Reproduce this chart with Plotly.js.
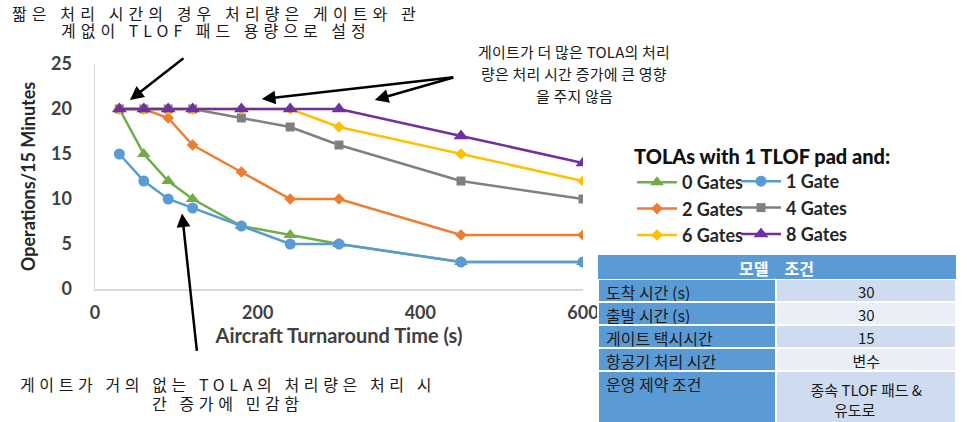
<!DOCTYPE html>
<html><head><meta charset="utf-8">
<script src="https://cdn.plot.ly/plotly-3.0.1.min.js"></script>
<style>html,body{margin:0;padding:0;background:#fff}#chart{width:967px;height:422px}</style>
</head><body><div id="chart"></div>
<script>
const turnaround = [30, 60, 90, 120, 180, 240, 300, 450, 600];
const gates0 = [20, 15, 12, 10, 7, 6, 5, 3, 3];
const gates1 = [15, 12, 10, 9, 7, 5, 5, 3, 3];
const gates2 = [20, 20, 19, 16, 13, 10, 10, 6, 6];
const gates4 = [20, 20, 20, 20, 19, 18, 16, 12, 10];
const gates6 = [20, 20, 20, 20, 20, 20, 18, 15, 12];
const gates8 = [20, 20, 20, 20, 20, 20, 20, 17, 14];
const seriesNames = ['0 Gates', '1 Gate', '2 Gates', '4 Gates', '6 Gates', '8 Gates'];
const xTicks = [0, 200, 400, 600];
const yTicks = [0, 5, 10, 15, 20, 25];
const tableHeader = ['모델', '조건'];
const tableParams = ['도착 시간 (s)', '출발 시간 (s)', '게이트 택시시간', '항공기 처리 시간', '운영 제약 조건'];
const tableValues = ['30', '30', '15', '변수', '종속 TLOF 패드 &<br>\u00a0\u00a0\u00a0\u00a0\u00a0\u00a0\u00a0유도로'];
const noteTopLeft = ['짧은 처리 시간의 경우 처리량은 게이트와 관', '계없이 TLOF 패드 용량으로 설정'];
const noteTopRight = ['게이트가 더 많은 TOLA의 처리', '량은 처리 시간 증가에 큰 영향', '을 주지 않음'];
const noteBottom = ['게이트가 거의 없는 TOLA의 처리량은 처리 시', '간 증가에 민감함'];

const W = 967, H = 422, ML = 95, MR = 10, MT = 10, MB = 0;
const PW = W - ML - MR, PH = H - MT - MB;
const px = x => (x - ML) / PW;
const py = y => (H - MB - y) / PH;

const colors = ['#70ad47', '#5b9bd5', '#ed7d31', '#808080', '#ffc000', '#7030a0'];
const symbols = ['triangle-up', 'circle', 'diamond', 'square', 'diamond', 'triangle-up'];
const sizes = [12, 11, 9, 9, 9, 13];
const legends = ['legend', 'legend2', 'legend', 'legend2', 'legend', 'legend2'];
const allY = [gates0, gates1, gates2, gates4, gates6, gates8];

const traces = allY.map((ys, i) => ({
  type: 'scatter', mode: 'lines+markers', x: turnaround, y: ys, name: seriesNames[i],
  line: {color: colors[i], width: 2.5},
  marker: {symbol: symbols[i], size: sizes[i], color: colors[i]},
  legend: legends[i], xaxis: 'x', yaxis: 'y'
}));

const rowFill = ['#cfdcef', '#e9eef7', '#cfdcef', '#e9eef7', '#cfdcef'];
traces.push({
  type: 'table',
  domain: {x: [px(598), px(956)], y: [0, py(255)]},
  columnwidth: [177, 178],
  header: {
    values: [[tableHeader[0]], [tableHeader[1]]],
    fill: {color: '#5b9bd5'}, line: {color: '#5b9bd5', width: 0},
    font: {family: 'Noto Sans CJK KR', size: 16, color: '#ffffff', weight: 700},
    align: ['right', 'left'], height: 24
  },
  cells: {
    values: [tableParams, tableValues],
    fill: {color: [tableParams.map(() => '#5b9bd5'), rowFill]},
    line: {color: '#ffffff', width: 2},
    font: {family: 'Noto Sans CJK KR', size: [16, 15], color: '#1a1a1a'},
    align: ['left', 'center'], height: 23
  }
});

const noteFont = {family: 'Noto Sans CJK KR', size: 16, color: '#1a1a1a'};
const spaced = (t, ls) => '<span style="letter-spacing:' + ls + 'px">' + t + '</span>';
const topLeftSpacing = [5.1, 5.0];
const annotations = [];
noteTopLeft.forEach((t, i) => annotations.push({xref: 'paper', yref: 'paper', x: px(216), y: py(13 + 17 * i), text: spaced(t, topLeftSpacing[i]), showarrow: false, font: noteFont, xanchor: 'center', yanchor: 'middle'}));
noteTopRight.forEach((t, i) => annotations.push({xref: 'paper', yref: 'paper', x: px(574), y: py(52 + 21.5 * i), text: spaced(t, 0.2), showarrow: false, font: {family: 'Noto Sans CJK KR', size: 15, color: '#1a1a1a'}, xanchor: 'center', yanchor: 'middle'}));
noteBottom.forEach((t, i) => annotations.push({xref: 'paper', yref: 'paper', x: px(228), y: py(384 + 19 * i), text: spaced(t, 4.6), showarrow: false, font: noteFont, xanchor: 'center', yanchor: 'middle'}));

const arrow = (x, y, ax, ay) => ({x: x, y: y, xref: 'x', yref: 'y', ax: ax, ay: ay, text: '', showarrow: true, arrowhead: 2, arrowsize: 1.1, arrowwidth: 2.5, arrowcolor: '#000000'});
annotations.push(arrow(43, 21, 55, -43));
annotations.push(arrow(205, 21.1, 193, -22));
annotations.push(arrow(344, 21, 80, -23));
annotations.push(arrow(107, 8.4, 15, 139));

const tickFont = {family: 'Lato', size: 18, color: '#404040', weight: 700};
const legendFont = {family: 'Lato', size: 18, color: '#262626', weight: 700};

const layout = {
  width: W, height: H,
  margin: {l: ML, r: MR, t: MT, b: MB},
  paper_bgcolor: '#ffffff', plot_bgcolor: '#ffffff',
  xaxis: {
    domain: [0, px(583)], range: [0, 600], tickvals: xTicks, showgrid: false, zeroline: false,
    showline: true, linecolor: '#d9d9d9', linewidth: 1.5,
    ticks: 'outside', ticklen: 7, tickcolor: 'rgba(0,0,0,0)', tickfont: tickFont,
    title: {text: 'Aircraft Turnaround Time (s)', font: {family: 'Lato', size: 20, color: '#404040', weight: 700}, standoff: 0}
  },
  yaxis: {
    domain: [py(289), py(64)], range: [0, 25], tickvals: yTicks, showgrid: false, zeroline: false,
    showline: true, linecolor: '#d9d9d9', linewidth: 1.5,
    ticks: 'outside', ticklen: 18, tickcolor: 'rgba(0,0,0,0)', tickfont: tickFont,
    title: {text: 'Operations/15 Minutes', font: {family: 'Lato', size: 18, color: '#262626', weight: 700}, standoff: 10}
  },
  showlegend: true,
  legend: {
    xref: 'paper', yref: 'paper', x: px(632), y: py(138), xanchor: 'left', yanchor: 'top',
    bgcolor: 'rgba(0,0,0,0)', font: legendFont, itemwidth: 40,
    title: {text: 'TOLAs with 1 TLOF pad and:', font: {family: 'Lato', size: 20, color: '#111111', weight: 900}}
  },
  legend2: {
    xref: 'paper', yref: 'paper', x: px(736), y: py(163), xanchor: 'left', yanchor: 'top',
    bgcolor: 'rgba(0,0,0,0)', font: legendFont, itemwidth: 40
  },
  annotations: annotations
};

Plotly.newPlot('chart', traces, layout, {displayModeBar: false, staticPlot: true});
</script></body></html>
